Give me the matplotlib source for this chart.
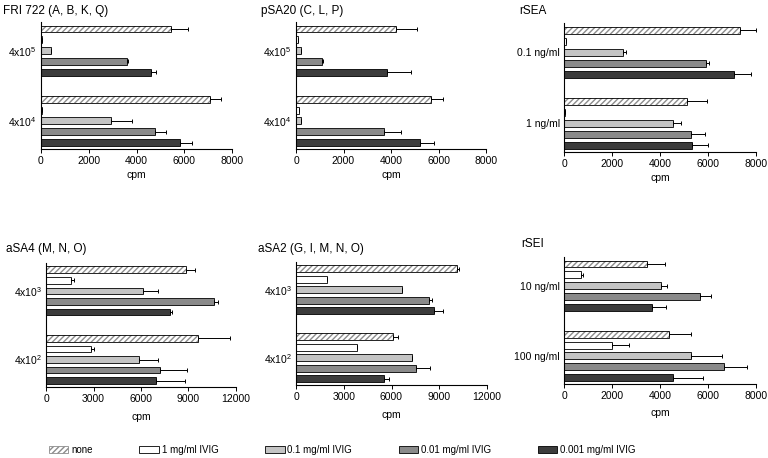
import numpy as np
import matplotlib
matplotlib.use("Agg")
import matplotlib.pyplot as plt
from matplotlib.patches import Patch

plt.rcParams['font.family'] = ['Liberation Sans', 'DejaVu Sans']
plt.rcParams['mathtext.default'] = 'regular'

# Data: per panel, two groups (top, bottom), 5 treatments each
treatments = ['none', '1 mg/ml IVIG', '0.1 mg/ml IVIG', '0.01 mg/ml IVIG', '0.001 mg/ml IVIG']

titles = ['FRI 722 (A, B, K, Q)', 'pSA20 (C, L, P)', 'rSEA',
          'aSA4 (M, N, O)', 'aSA2 (G, I, M, N, O)', 'rSEI']

group_labels = [
    ['4x10$^{5}$', '4x10$^{4}$'],
    ['4x10$^{5}$', '4x10$^{4}$'],
    ['0.1 ng/ml', '1 ng/ml'],
    ['4x10$^{3}$', '4x10$^{2}$'],
    ['4x10$^{3}$', '4x10$^{2}$'],
    ['10 ng/ml', '100 ng/ml'],
]

fri722_mean = [[5450, 60, 400, 3620, 4600], [7070, 60, 2920, 4780, 5820]]
fri722_err = [[700, 0, 0, 30, 230], [490, 0, 900, 470, 500]]

psa20_mean = [[4210, 80, 210, 1090, 3850], [5670, 140, 210, 3700, 5210]]
psa20_err = [[880, 0, 0, 30, 980], [500, 0, 0, 700, 590]]

rsea_mean = [[7320, 70, 2450, 5900, 7090], [5140, 60, 4560, 5310, 5340]]
rsea_err = [[690, 0, 130, 160, 710], [800, 0, 330, 570, 680]]

asa4_mean = [[8830, 1560, 6150, 10590, 7840], [9630, 2850, 5890, 7230, 6970]]
asa4_err = [[600, 190, 900, 250, 130], [1970, 150, 1200, 1650, 1780]]

asa2_mean = [[10110, 1970, 6630, 8330, 8660], [6080, 3860, 7260, 7570, 5520]]
asa2_err = [[130, 0, 0, 230, 570], [320, 0, 0, 820, 350]]

rsei_mean = [[3440, 700, 4050, 5680, 3670], [4370, 2020, 5310, 6660, 4560]]
rsei_err = [[780, 90, 250, 440, 570], [920, 680, 1270, 950, 1230]]

means = [fri722_mean, psa20_mean, rsea_mean, asa4_mean, asa2_mean, rsei_mean]
errs = [fri722_err, psa20_err, rsea_err, asa4_err, asa2_err, rsei_err]

xmax = [8000, 8000, 8000, 12000, 12000, 8000]
xticks = [[0, 2000, 4000, 6000, 8000]] * 3 + [[0, 3000, 6000, 9000, 12000]] * 2 + [[0, 2000, 4000, 6000, 8000]]

colors = ['white', 'white', '#c4c4c4', '#8a8a8a', '#3c3c3c']

W, H = 768, 458
fig = plt.figure(figsize=(W / 100, H / 100), dpi=100)

# pixel boxes: left, right, top, bottom
boxes = [(41, 232, 22, 149), (296, 486, 22, 149), (564, 756, 23, 152),
         (46, 236, 263, 387), (296, 487, 262, 385), (564, 756, 257, 384)]
title_pos = [(3, 11), (261, 11), (519, 11), (6, 249), (258, 249), (521, 244)]
cpm_y = [175, 175, 178, 417, 415, 413]

offsets = [0, 6.5]
bh = 0.64

for i in range(6):
    l, r, t, b = boxes[i]
    ax = fig.add_axes([l / W, 1 - b / H, (r - l) / W, (b - t) / H])
    for g in range(2):
        pos = offsets[g] + np.arange(5)
        vals = np.array(means[i][g])
        e = np.array(errs[i][g])
        # hatched "none" bar
        ax.barh(pos[0], vals[0], height=bh, color='white', edgecolor='#8c8c8c',
                hatch='//////', linewidth=0)
        ax.barh(pos[0], vals[0], height=bh, fill=False, edgecolor='black', linewidth=0.6)
        ax.barh(pos[1:], vals[1:], height=bh, color=colors[1:], edgecolor='black', linewidth=0.6)
        ax.errorbar(vals, pos, xerr=[np.zeros(5), e], fmt='none', ecolor='black',
                    elinewidth=0.7, capsize=1.6, capthick=0.7)
    ax.set_ylim(11.1, -0.65)
    ax.set_xlim(0, xmax[i])
    ax.set_xticks(xticks[i])
    ax.set_xticklabels([str(v) for v in xticks[i]], fontsize=7.5)
    ax.set_yticks([offsets[0] + 2, offsets[1] + 2])
    ax.set_yticklabels(group_labels[i], fontsize=7.5)
    ax.tick_params(axis='y', length=0, pad=3)
    ax.tick_params(axis='x', length=3, width=0.7, pad=2)
    for s in ['top', 'right']:
        ax.spines[s].set_visible(False)
    for s in ['left', 'bottom']:
        ax.spines[s].set_linewidth(0.8)
    fig.text(title_pos[i][0] / W, 1 - title_pos[i][1] / H, titles[i], fontsize=8.5,
             ha='left', va='center')
    fig.text((l + r) / 2 / W, 1 - cpm_y[i] / H, 'cpm', fontsize=7.5, ha='center', va='center')

handles = [Patch(facecolor='white', edgecolor='#8c8c8c', hatch='//////', linewidth=0.6)]
handles += [Patch(facecolor=c, edgecolor='black', linewidth=0.6) for c in colors[1:]]
fig.legend(handles, treatments, loc='center left', bbox_to_anchor=(40 / W, 1 - 450 / H),
           ncol=5, frameon=False, fontsize=7, handlelength=2.0, handleheight=0.6,
           handletextpad=0.3, columnspacing=4.8)

fig.savefig('out.png', dpi=100)
